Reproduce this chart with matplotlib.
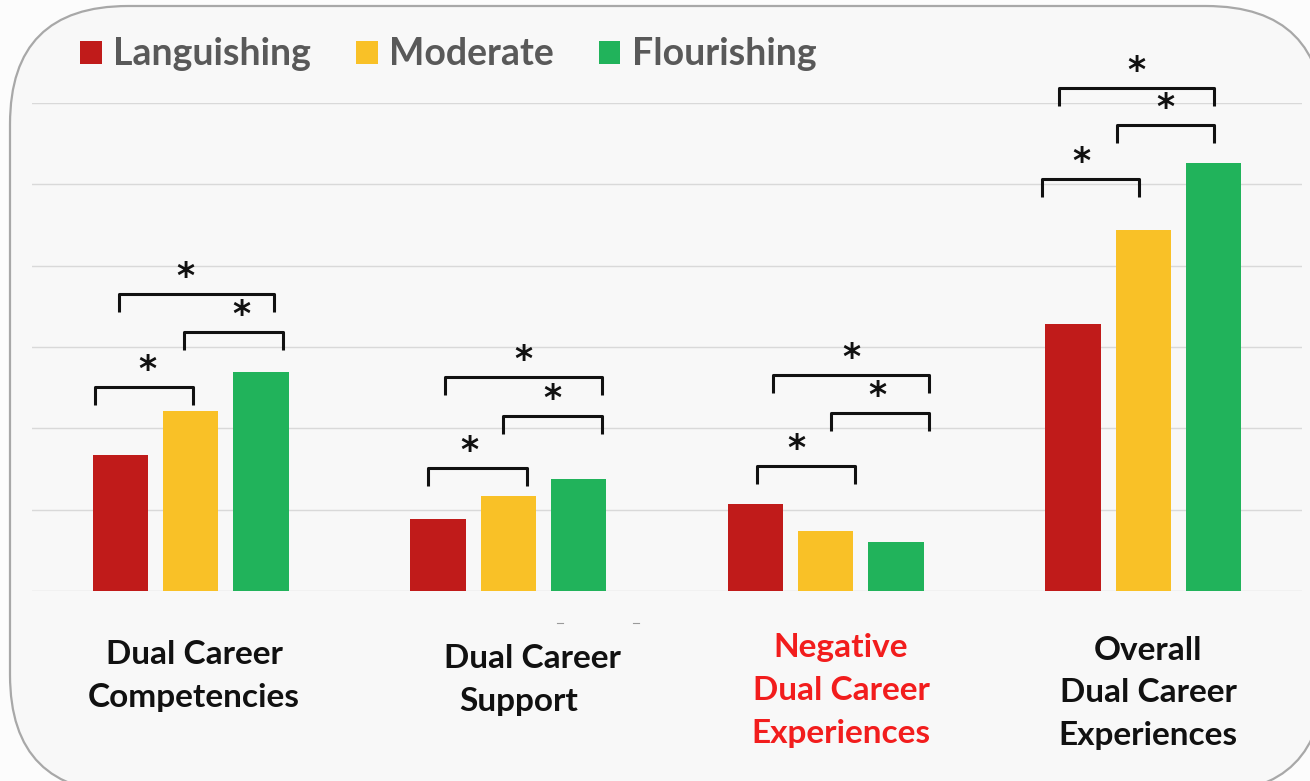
import matplotlib
matplotlib.use("Agg")
import matplotlib.pyplot as plt
from matplotlib.patches import FancyBboxPatch
import numpy as np

plt.rcParams['font.family'] = ['Lato', 'DejaVu Sans']

# ---- data ----
categories = ["Dual Career\nCompetencies", "Dual Career\nSupport",
              "Negative\nDual Career\nExperiences", "Overall\nDual Career\nExperiences"]
series_names = ["Languishing", "Moderate", "Flourishing"]
languishing = [1.67, 0.89, 1.07, 3.28]
moderate = [2.21, 1.17, 0.74, 4.44]
flourishing = [2.69, 1.38, 0.60, 5.26]
colors = ["#C01B1A", "#F9C127", "#21B35B"]
label_colors = ["#111111", "#111111", "#F21D1D", "#111111"]

# significance brackets per group: (left offset, right offset, top height, star x shift)
brackets = [
    [(-0.302, 0.006, 2.51, 0.01), (-0.022, 0.290, 3.18, 0.027), (-0.227, 0.261, 3.65, -0.033)],
    [(-0.252, 0.060, 1.51, -0.026), (-0.016, 0.296, 2.15, 0.0), (-0.198, 0.296, 2.63, 0.0)],
    [(-0.216, 0.093, 1.54, -0.03), (0.017, 0.326, 2.19, -0.01), (-0.165, 0.326, 2.66, 0.0)],
    [(-0.318, -0.013, 5.07, -0.03), (-0.082, 0.224, 5.73, 0.0), (-0.265, 0.224, 6.18, 0.0)],
]

W, H = 1310, 781
fig = plt.figure(figsize=(W / 100, H / 100), dpi=100)
fig.patch.set_facecolor('#FCFCFC')

bg = fig.add_axes([0, 0, 1, 1])
bg.set_xlim(0, W)
bg.set_ylim(H, 0)
bg.axis('off')
bg.add_patch(FancyBboxPatch((10, 6), W + 14 - 10, H + 12 - 6,
                            boxstyle="round,pad=0,rounding_size=118",
                            fc='#F8F8F8', ec='#A8A8A8', lw=1.6, clip_on=False))

ax = fig.add_axes([32 / W, (H - 591) / H, 1270 / W, 488 / H])
ax.set_facecolor('none')
ax.set_xlim(-0.5, 3.5)
ax.set_ylim(0, 6)
for s in ax.spines.values():
    s.set_visible(False)
ax.set_yticks(np.arange(0, 7, 1))
ax.set_xticks([])
ax.tick_params(left=False, labelleft=False)
ax.grid(axis='y', color='#D9D9D9', lw=1.0)
ax.set_axisbelow(True)

x = np.arange(len(categories))
offs = [-0.221, 0.0, 0.221]
bw = 0.174
for vals, off, c, name in zip([languishing, moderate, flourishing], offs, colors, series_names):
    ax.bar(x + off, vals, bw, color=c, label=name, zorder=2)

leg_h = 0.22
for gi, grp in enumerate(brackets):
    for (l, r, top, sdx) in grp:
        xl, xr = x[gi] + l, x[gi] + r
        ax.plot([xl, xl, xr, xr], [top - leg_h, top, top, top - leg_h],
                color='#111111', lw=2.2, solid_joinstyle='round',
                solid_capstyle='butt', clip_on=False, zorder=3)
        ax.text((xl + xr) / 2 + sdx, top + 0.0, '*', ha='center', va='bottom',
                fontsize=25, fontweight='bold', color='#111111',
                family=['DejaVu Sans'], clip_on=False)

# legend
leg = ax.legend(loc='upper left', bbox_to_anchor=(0.026, 1.165), ncol=3,
                frameon=False, fontsize=27, handlelength=0.58, handleheight=0.58,
                handletextpad=0.3, columnspacing=1.2, borderaxespad=0)
for t in leg.get_texts():
    t.set_color('#595959')
    t.set_fontweight('bold')

# category labels (one text per line)
label_pos = [(194, 655), (532, 658), (841, 648), (1148, 650)]
line_dx = [[0, 0], [0, -13], [0, 0, 0], [0, 0, 0]]
line_step = 43
for (lx, ly), lab, lc, dxs in zip(label_pos, categories, label_colors, line_dx):
    for li, (line, dx) in enumerate(zip(lab.split("\n"), dxs)):
        bg.text(lx + dx, ly + li * line_step, line, ha='center', va='center',
                fontsize=24, fontweight='bold', color=lc)

# tiny stray marks below baseline
for mx in (560, 636):
    bg.plot([mx - 3, mx + 3], [623, 623], color='#9A9A9A', lw=0.8)

fig.savefig('out.png', dpi=100, facecolor=fig.get_facecolor())
